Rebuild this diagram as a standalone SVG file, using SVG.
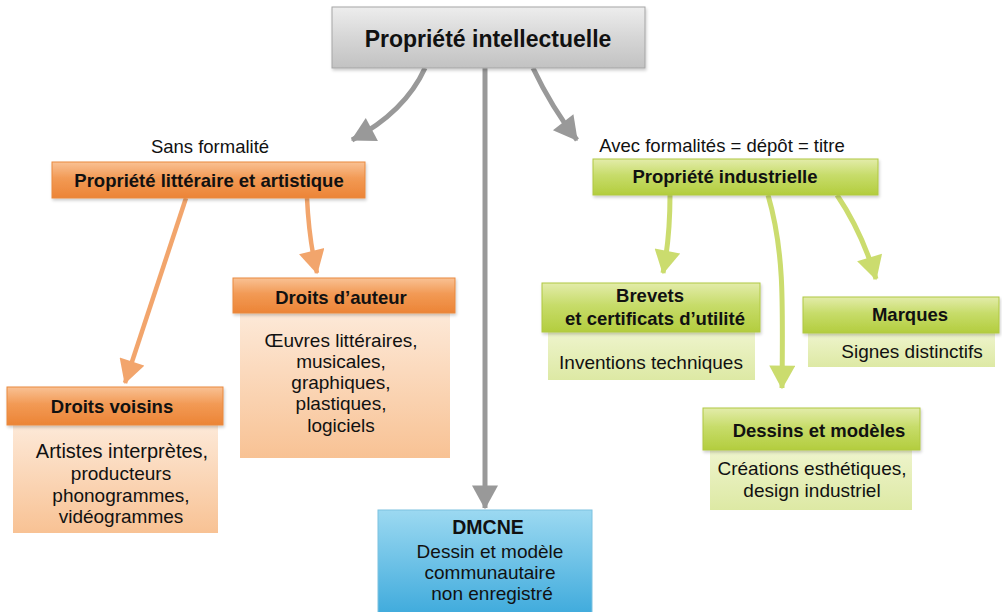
<svg xmlns="http://www.w3.org/2000/svg" width="1002" height="612" viewBox="0 0 1002 612">
<defs>
<linearGradient id="gGray" x1="0" y1="0" x2="0" y2="1">
<stop offset="0" stop-color="#ededed"/><stop offset="0.5" stop-color="#d6d6d6"/><stop offset="1" stop-color="#c2c2c2"/>
</linearGradient>
<linearGradient id="gOrange" x1="0" y1="0" x2="0" y2="1">
<stop offset="0" stop-color="#f9c194"/><stop offset="0.45" stop-color="#f29a55"/><stop offset="1" stop-color="#ec8436"/>
</linearGradient>
<linearGradient id="gPeach" x1="0" y1="0" x2="0" y2="1">
<stop offset="0" stop-color="#fde9d8"/><stop offset="1" stop-color="#f8c294"/>
</linearGradient>
<linearGradient id="gGreen" x1="0" y1="0" x2="0" y2="1">
<stop offset="0" stop-color="#e3ecaa"/><stop offset="0.45" stop-color="#c7dc6a"/><stop offset="1" stop-color="#b3cd3e"/>
</linearGradient>
<linearGradient id="gLime" x1="0" y1="0" x2="0" y2="1">
<stop offset="0" stop-color="#eef4cc"/><stop offset="1" stop-color="#dde9a4"/>
</linearGradient>
<linearGradient id="gBlue" x1="0" y1="0" x2="0" y2="1">
<stop offset="0" stop-color="#9cd9f1"/><stop offset="1" stop-color="#3eaadc"/>
</linearGradient>
<filter id="sh" x="-5%" y="-10%" width="115%" height="130%">
<feDropShadow dx="1" dy="2" stdDeviation="1.5" flood-color="#000" flood-opacity="0.2"/>
</filter>
<marker id="mGray" markerUnits="userSpaceOnUse" markerWidth="26" markerHeight="26" viewBox="0 0 20 22" refX="19" refY="11" orient="auto">
<path d="M0,0 L20,11 L0,22 z" fill="#999999"/>
</marker>
<marker id="mOrange" markerUnits="userSpaceOnUse" markerWidth="26" markerHeight="26" viewBox="0 0 20 22" refX="19" refY="11" orient="auto">
<path d="M0,0 L20,11 L0,22 z" fill="#f2a56c"/>
</marker>
<marker id="mGreen" markerUnits="userSpaceOnUse" markerWidth="26" markerHeight="26" viewBox="0 0 20 22" refX="19" refY="11" orient="auto">
<path d="M0,0 L20,11 L0,22 z" fill="#cbdc6e"/>
</marker>
</defs>
<style>
text{font-family:"Liberation Sans",Arial,sans-serif;fill:#111;text-anchor:middle}
.b{font-weight:bold;font-size:18.5px}
.t{font-weight:bold;font-size:23px}
.r{font-size:19px}
.lbl{font-size:18.5px}
.gray{fill:url(#gGray);stroke:#a5a5a5;stroke-width:1}
.oh{fill:url(#gOrange);stroke:#e9893f;stroke-width:1}
.ob{fill:url(#gPeach)}
.gh{fill:url(#gGreen);stroke:#b0c840;stroke-width:1}
.gb{fill:url(#gLime)}
.blue{fill:url(#gBlue);stroke:#7cc2e0;stroke-width:1}
.ag{fill:none;stroke:#999999;stroke-width:5;marker-end:url(#mGray)}
.ao{fill:none;stroke:#f2a56c;stroke-width:4.5;marker-end:url(#mOrange)}
.an{fill:none;stroke:#cbdc6e;stroke-width:5;marker-end:url(#mGreen)}
</style>
<rect width="1002" height="612" fill="#ffffff"/>

<g id="connectors">
<path class="ag" d="M425,68 Q405,112 352,140"/>
<path class="ag" d="M485,68 L485,508"/>
<path class="ag" d="M533,68 Q552,108 577,140"/>
<path class="ao" d="M186,198 L125,383"/>
<path class="ao" d="M307,198 Q309,240 317,273"/>
<path class="an" d="M670,195 Q670,238 663,273"/>
<path class="an" d="M768,195 C784,250 783,300 782,388"/>
<path class="an" d="M837,195 Q862,232 876,279"/>
</g>

<g id="n-pi">
<rect class="gray" x="332" y="7" width="313" height="61" filter="url(#sh)"/>
<text class="t" x="488" y="47">Propriété intellectuelle</text>
</g>

<g id="l-sans">
<text class="lbl" x="210" y="153">Sans formalité</text>
</g>

<g id="n-pla">
<rect class="oh" x="52" y="162" width="313" height="36" filter="url(#sh)"/>
<text class="b" x="209" y="187">Propriété littéraire et artistique</text>
</g>

<g id="n-da">
<rect class="ob" x="240" y="313" width="210" height="145"/>
<rect class="oh" x="233" y="278" width="222" height="35" filter="url(#sh)"/>
<text class="b" x="341" y="304">Droits d’auteur</text>
<text class="r" x="341" y="347">Œuvres littéraires,</text>
<text class="r" x="341" y="368">musicales,</text>
<text class="r" x="341" y="389">graphiques,</text>
<text class="r" x="341" y="410">plastiques,</text>
<text class="r" x="341" y="432">logiciels</text>
</g>

<g id="n-dv">
<rect class="ob" x="13" y="425" width="205" height="108"/>
<rect class="oh" x="7" y="387" width="216" height="38" filter="url(#sh)"/>
<text class="b" x="112" y="413">Droits voisins</text>
<text class="r" x="122" y="458" style="font-size:20px">Artistes interprètes,</text>
<text class="r" x="121" y="480">producteurs</text>
<text class="r" x="121" y="502">phonogrammes,</text>
<text class="r" x="121" y="523">vidéogrammes</text>
</g>

<g id="n-dmcne">
<rect class="blue" x="378" y="510" width="214" height="106"/>
<text class="b" x="488" y="534" style="font-size:19.5px">DMCNE</text>
<text class="r" x="490" y="558">Dessin et modèle</text>
<text class="r" x="490" y="579">communautaire</text>
<text class="r" x="492" y="600">non enregistré</text>
</g>

<g id="l-avec">
<text class="lbl" x="722" y="152">Avec formalités = dépôt = titre</text>
</g>

<g id="n-pind">
<rect class="gh" x="593" y="159" width="285" height="36" filter="url(#sh)"/>
<text class="b" x="725" y="183">Propriété industrielle</text>
</g>

<g id="n-brevets">
<rect class="gb" x="548" y="332" width="207" height="48"/>
<rect class="gh" x="542" y="283" width="218" height="49" filter="url(#sh)"/>
<text class="b" x="650" y="302">Brevets</text>
<text class="b" x="655" y="325">et certificats d’utilité</text>
<text class="r" x="651" y="369">Inventions techniques</text>
</g>

<g id="n-marques">
<rect class="gb" x="808" y="333" width="187" height="34"/>
<rect class="gh" x="803" y="297" width="196" height="36" filter="url(#sh)"/>
<text class="b" x="910" y="321">Marques</text>
<text class="r" x="912" y="358">Signes distinctifs</text>
</g>

<g id="n-dm">
<rect class="gb" x="710" y="450" width="202" height="60"/>
<rect class="gh" x="703" y="408" width="217" height="42" filter="url(#sh)"/>
<text class="b" x="819" y="437">Dessins et modèles</text>
<text class="r" x="812" y="475">Créations esthétiques,</text>
<text class="r" x="812" y="497">design industriel</text>
</g>
</svg>
